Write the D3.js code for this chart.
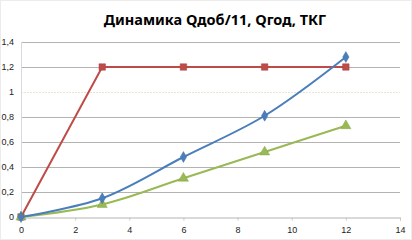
<!DOCTYPE html>
<html>
<head>
<meta charset="utf-8">
<script src="https://cdn.jsdelivr.net/npm/d3@7"></script>
<style>
body { margin: 0; background: #fff; }
svg { display: block; }
</style>
</head>
<body>
<div id="chart"></div>
<script>
var w = 412, h = 240;

var months = [0, 3, 6, 9, 12];
var qdob = [0, 0.15, 0.48, 0.81, 1.28];
var qgod = [0, 1.2, 1.2, 1.2, 1.2];
var tkg = [0, 0.1, 0.31, 0.52, 0.73];
var xTicks = [0, 2, 4, 6, 8, 10, 12, 14];
var yTicks = [0, 0.2, 0.4, 0.6, 0.8, 1, 1.2, 1.4];

var svg = d3.select("#chart").append("svg")
	.attr("width", w)
	.attr("height", h);

svg.append("rect")
	.attr("x", 0.5).attr("y", 0.5)
	.attr("width", w - 1).attr("height", h - 1)
	.attr("fill", "#fff")
	.attr("stroke", "#ececec");

svg.append("text")
	.attr("x", 215)
	.attr("y", 25)
	.attr("text-anchor", "middle")
	.attr("font-family", "'Noto Sans', sans-serif")
	.attr("font-weight", "bold")
	.attr("font-size", 14.5)
	.attr("fill", "#000")
	.text("Динамика Qдоб/11, Qгод, ТКГ");

var x = d3.scaleLinear().domain([0, 14]).range([21, 400]);
var y = d3.scaleLinear().domain([0, 1.4]).range([217, 42]);

// gridlines
svg.append("g").selectAll("line")
	.data(yTicks.filter(function(d) { return d > 0; }))
	.enter().append("line")
	.attr("x1", x(0)).attr("x2", x(14))
	.attr("y1", function(d) { return Math.round(y(d)) + 0.5; })
	.attr("y2", function(d) { return Math.round(y(d)) + 0.5; })
	.attr("stroke", function(d) { return d === 1 ? "#e6e6cc" : "#b3b3b3"; })
	.attr("stroke-dasharray", function(d) { return d === 1 ? "2,1" : null; })
	.attr("stroke-width", 1);

// y axis line
svg.append("line")
	.attr("x1", x(0) + 0.5).attr("x2", x(0) + 0.5)
	.attr("y1", y(1.4)).attr("y2", y(0))
	.attr("stroke", "#d8d8e4");

// x axis
var xAxis = d3.axisBottom(x).tickValues(xTicks).tickSize(3).tickFormat(d3.format("d"));
var gx = svg.append("g")
	.attr("transform", "translate(0," + (Math.round(y(0)) + 0.5) + ")")
	.call(xAxis);
gx.select(".domain").attr("stroke", "#b3b3b3");
gx.selectAll(".tick line").attr("stroke", "#c8c8c8");
gx.selectAll("text")
	.attr("font-family", "'Liberation Sans', sans-serif")
	.attr("font-size", 9)
	.attr("fill", "#222")
	.attr("dy", "1em");

// y labels
var yfmt = function(d) { return d3.format(".1f")(d).replace(/\.0$/, "").replace(".", ","); };
svg.append("g").selectAll("text")
	.data(yTicks)
	.enter().append("text")
	.attr("x", 14)
	.attr("y", function(d) { return y(d) + 3; })
	.attr("text-anchor", "end")
	.attr("font-family", "'Liberation Sans', sans-serif")
	.attr("font-size", 9)
	.attr("fill", "#222")
	.text(yfmt);

var series = [
	{ name: "qgod", values: qgod, color: "#be4b48", curve: d3.curveLinear, marker: d3.symbolSquare, size: 42 },
	{ name: "tkg", values: tkg, color: "#98b954", curve: d3.curveCatmullRom, marker: d3.symbolTriangle, size: 44 },
	{ name: "qdob", values: qdob, color: "#4a7ebb", curve: d3.curveCatmullRom, marker: d3.symbolDiamond, size: 34 }
];

series.forEach(function(s) {
	var pts = months.map(function(m, i) { return [m, s.values[i]]; });
	var line = d3.line()
		.x(function(d) { return x(d[0]); })
		.y(function(d) { return y(d[1]); })
		.curve(s.curve);
	svg.append("path")
		.datum(pts)
		.attr("d", line)
		.attr("fill", "none")
		.attr("stroke", s.color)
		.attr("stroke-width", 2);
	svg.append("g").selectAll("path")
		.data(pts)
		.enter().append("path")
		.attr("transform", function(d) { return "translate(" + x(d[0]) + "," + y(d[1]) + ")"; })
		.attr("d", d3.symbol().type(s.marker).size(s.size))
		.attr("fill", s.color)
		.attr("stroke", d3.color(s.color).darker(0.3))
		.attr("stroke-width", 0.5);
});
</script>
</body>
</html>
